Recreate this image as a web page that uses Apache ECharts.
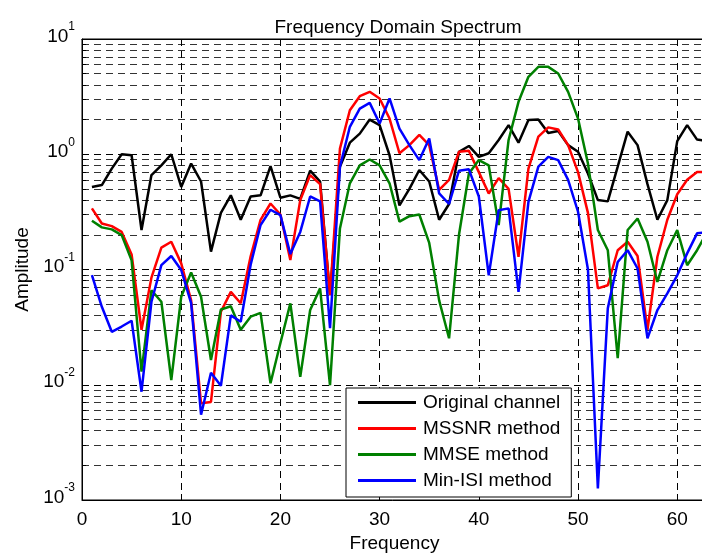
<!DOCTYPE html>
<html>
<head>
<meta charset="utf-8">
<script src="https://cdn.jsdelivr.net/npm/echarts@6/dist/echarts.min.js"></script>
<style>
  html, body { margin: 0; padding: 0; background: #fff; }
  #chart { width: 702px; height: 554px; }
</style>
</head>
<body>
<div id="chart"></div>
<script>
// Frequency bins
const freq = [1, 2, 3, 4, 5, 6, 7, 8, 9, 10, 11, 12, 13, 14, 15, 16, 17, 18, 19, 20,
  21, 22, 23, 24, 25, 26, 27, 28, 29, 30, 31, 32, 33, 34, 35, 36, 37, 38, 39, 40,
  41, 42, 43, 44, 45, 46, 47, 48, 49, 50, 51, 52, 53, 54, 55, 56, 57, 58, 59, 60,
  61, 62, 63];

// Spectrum amplitude of the unequalized channel
const originalChannel = [0.52, 0.54, 0.75, 1.0, 0.98, 0.22, 0.66, 0.80, 1.0, 0.52,
  0.83, 0.58, 0.143, 0.31, 0.44, 0.27, 0.43, 0.44, 0.79, 0.42,
  0.44, 0.41, 0.72, 0.58, 0.06, 0.78, 1.26, 1.51, 2.0, 1.79,
  0.98, 0.36, 0.50, 0.73, 0.58, 0.27, 0.37, 1.05, 1.18, 0.95,
  1.02, 1.33, 1.79, 1.26, 1.98, 2.0, 1.53, 1.59, 1.20, 1.05,
  0.68, 0.40, 0.39, 0.78, 1.57, 1.20, 0.55, 0.27, 0.40, 1.30,
  1.79, 1.34, 1.30];

// Equalized spectra
const mssnr = [0.339, 0.251, 0.238, 0.212, 0.135, 0.030, 0.085, 0.155, 0.174, 0.113,
  0.054, 0.0069, 0.0071, 0.043, 0.064, 0.051, 0.13, 0.27, 0.374, 0.30,
  0.121, 0.40, 0.66, 0.55, 0.06, 1.12, 2.41, 3.19, 3.48, 3.05,
  2.04, 1.02, 1.20, 1.47, 1.20, 0.49, 0.60, 1.05, 1.07, 0.70,
  0.457, 0.62, 0.50, 0.129, 0.75, 1.42, 1.71, 1.64, 1.20, 0.70,
  0.31, 0.0686, 0.073, 0.147, 0.174, 0.131, 0.030, 0.129, 0.27, 0.45,
  0.60, 0.70, 0.70];

const mmse = [0.265, 0.232, 0.223, 0.199, 0.12, 0.013, 0.066, 0.0525, 0.011, 0.058,
  0.094, 0.058, 0.0164, 0.045, 0.048, 0.030, 0.039, 0.042, 0.0103, 0.023,
  0.0508, 0.0117, 0.0445, 0.0686, 0.0099, 0.227, 0.56, 0.80, 0.90, 0.80,
  0.56, 0.26, 0.29, 0.30, 0.17, 0.054, 0.0253, 0.20, 0.68, 0.89,
  0.80, 0.243, 1.33, 2.85, 4.7, 5.73, 5.73, 5.02, 3.48, 2.04,
  0.83, 0.22, 0.147, 0.017, 0.22, 0.277, 0.174, 0.078, 0.147, 0.22,
  0.109, 0.147, 0.21];

const minIsi = [0.0894, 0.0475, 0.0288, 0.032, 0.0359, 0.0087, 0.0525, 0.109, 0.131, 0.099,
  0.051, 0.0055, 0.0127, 0.0098, 0.040, 0.0352, 0.11, 0.243, 0.33, 0.296,
  0.136, 0.212, 0.43, 0.39, 0.031, 0.78, 1.73, 2.49, 2.79, 1.85,
  3.05, 1.67, 1.20, 0.89, 1.37, 0.457, 0.37, 0.72, 0.74, 0.43,
  0.089, 0.327, 0.339, 0.064, 0.386, 0.78, 0.95, 0.89, 0.60, 0.317,
  0.10, 0.00126, 0.046, 0.116, 0.147, 0.102, 0.0253, 0.0445, 0.062, 0.089,
  0.138, 0.206, 0.21];

const seriesNames = ['Original channel', 'MSSNR method', 'MMSE method', 'Min-ISI method'];
const seriesColors = ['#000000', '#ff0000', '#008000', '#0000ff'];
const seriesValues = [originalChannel, mssnr, mmse, minIsi];

const FONT = '"Liberation Sans", Arial, Helvetica, sans-serif';
const FS = 19;
const dash = [7, 5];

const chart = echarts.init(document.getElementById('chart'), null, { renderer: 'canvas' });

const lineSeries = seriesNames.map((name, k) => ({
  name: name,
  type: 'line',
  symbol: 'none',
  animation: false,
  color: seriesColors[k],
  lineStyle: { color: seriesColors[k], width: 2.5 },
  data: freq.map((f, i) => [f, seriesValues[k][i]]),
  z: 3 + k
}));

chart.setOption({
  animation: false,
  backgroundColor: '#ffffff',
  textStyle: { fontFamily: FONT },
  title: {
    text: 'Frequency Domain Spectrum',
    left: 393,
    top: 13,
    textAlign: 'center',
    textStyle: { fontFamily: FONT, fontSize: FS, fontWeight: 'normal', color: '#000' }
  },
  grid: {
    left: 82, top: 39, right: -5, bottom: 54,
    outerBoundsMode: 'none',
    containLabel: false,
    show: true, borderColor: '#000', borderWidth: 1, backgroundColor: '#fff'
  },
  legend: {
    data: seriesNames,
    orient: 'vertical',
    left: 346,
    top: 388,
    icon: 'rect',
    itemWidth: 58,
    itemHeight: 3,
    itemGap: 7,
    padding: [5, 11, 7, 12],
    backgroundColor: '#ffffff',
    borderColor: '#000000',
    borderWidth: 1,
    borderRadius: 0,
    selectedMode: false,
    textStyle: { fontFamily: FONT, fontSize: FS, color: '#000', padding: [0, 0, 0, 2] }
  },
  xAxis: [{
    type: 'value',
    min: 0, max: 63, interval: 10,
    name: 'Frequency',
    nameLocation: 'middle',
    nameGap: 29,
    nameTextStyle: { fontFamily: FONT, fontSize: FS, color: '#000' },
    axisLine: { show: true, onZero: false, lineStyle: { color: '#000', width: 1 } },
    axisTick: { show: true, inside: true, length: 6, lineStyle: { color: '#000' } },
    axisLabel: { fontFamily: FONT, fontSize: FS, color: '#000', margin: 10, showMaxLabel: false },
    splitLine: { show: true, lineStyle: { color: '#000', type: dash, width: 1 } }
  }, {
    type: 'value',
    position: 'top',
    min: 0, max: 63, interval: 10,
    axisLine: { show: true, lineStyle: { color: '#000', width: 1 } },
    axisTick: { show: true, inside: true, length: 6, lineStyle: { color: '#000' } },
    axisLabel: { show: false },
    splitLine: { show: false }
  }],
  yAxis: {
    type: 'log',
    logBase: 10,
    min: 0.001, max: 10,
    name: 'Amplitude',
    nameLocation: 'middle',
    nameGap: 50,
    nameTextStyle: { fontFamily: FONT, fontSize: FS, color: '#000' },
    axisLine: { show: true, onZero: false, lineStyle: { color: '#000', width: 1 } },
    axisTick: { show: true, inside: true, length: 6, lineStyle: { color: '#000' } },
    minorTick: { show: true, splitNumber: 9, length: 4, lineStyle: { color: '#000' } },
    axisLabel: {
      margin: 7,
      padding: [0, 0, 11, 0],
      formatter: function (v) {
        const e = Math.round(Math.log10(v));
        return '{b|10}{e|' + e + '}';
      },
      rich: {
        b: { fontFamily: FONT, fontSize: FS, color: '#000', lineHeight: 25, verticalAlign: 'bottom' },
        e: { fontFamily: FONT, fontSize: 12, color: '#000', verticalAlign: 'top' }
      }
    },
    splitLine: { show: true, lineStyle: { color: '#000', type: dash, width: 1 } },
    minorSplitLine: { show: true, lineStyle: { color: '#333', type: dash, width: 1 } }
  },
  series: lineSeries
});
</script>
</body>
</html>
